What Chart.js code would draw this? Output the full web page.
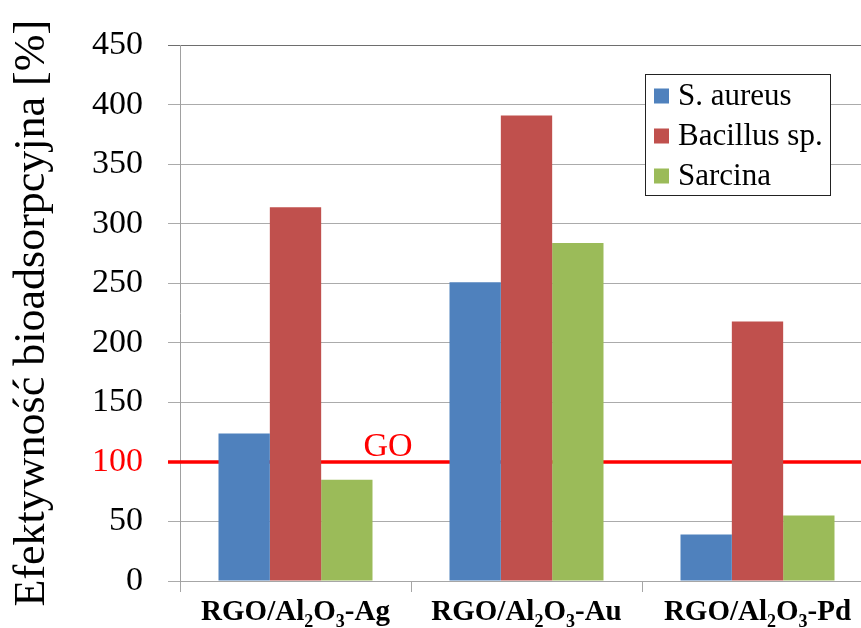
<!DOCTYPE html>
<html>
<head>
<meta charset="utf-8">
<script src="https://cdn.jsdelivr.net/npm/chart.js@4/dist/chart.umd.min.js"></script>
<style>
  html, body { margin: 0; padding: 0; overflow: hidden; background: #fff; }
  #wrap { position: absolute; left: 0; top: 0; width: 880px; height: 628px; }
</style>
</head>
<body>
<div id="wrap"><canvas id="c" width="880" height="628"></canvas></div>
<script>
// Samples (digits in the names are drawn as subscripts)
const categories = ['RGO/Al2O3-Ag', 'RGO/Al2O3-Au', 'RGO/Al2O3-Pd'];
// Bacteria
const seriesNames = ['S. aureus', 'Bacillus sp.', 'Sarcina'];
const sAureus  = [124, 251, 39];
const bacillus = [314, 391, 218];
const sarcina  = [85, 284, 55];
// Value axis
const yMin = 0, yMax = 450, yStep = 50;
// Reference level for plain graphene oxide
const goLevel = 100;
const goLabel = 'GO';
const yTitle = 'Efektywność bioadsorpcyjna [%]';

const SERIF = '"Liberation Serif", "Times New Roman", serif';
const colors = ['#4F81BD', '#C0504D', '#9BBB59'];
const seriesValues = [sAureus, bacillus, sarcina];

// Horizontal GO reference line, drawn beneath the bars
const goLinePlugin = {
  id: 'goLine',
  beforeDatasetsDraw(chart, args, opts) {
    const { ctx, chartArea } = chart;
    const y = chart.scales.y.getPixelForValue(opts.level);
    ctx.save();
    ctx.strokeStyle = opts.color;
    ctx.lineWidth = opts.width;
    ctx.beginPath();
    ctx.moveTo(chartArea.left - opts.overhang, y);
    ctx.lineTo(chartArea.right, y);
    ctx.stroke();
    ctx.fillStyle = opts.color;
    ctx.font = opts.textFont;
    ctx.textAlign = 'center';
    ctx.textBaseline = 'alphabetic';
    ctx.fillText(opts.text, chartArea.left + opts.textOffsetX, y - opts.textGap);
    ctx.restore();
  }
};

// Category labels with chemical subscripts
const subscriptLabels = {
  id: 'subscriptLabels',
  afterDraw(chart, args, opts) {
    const { ctx } = chart;
    const xs = chart.scales.x;
    ctx.save();
    ctx.fillStyle = opts.color;
    ctx.textBaseline = 'alphabetic';
    ctx.textAlign = 'left';
    chart.data.labels.forEach((lab, i) => {
      const parts = lab.split(/(\d+)/).filter(s => s.length);
      const segs = parts.map(p => ({ text: p, sub: /^\d+$/.test(p) }));
      let total = 0;
      segs.forEach(s => {
        ctx.font = s.sub ? opts.subFace : opts.mainFace;
        s.w = ctx.measureText(s.text).width;
        total += s.w;
      });
      let x = xs.getPixelForValue(i) - total / 2;
      segs.forEach(s => {
        ctx.font = s.sub ? opts.subFace : opts.mainFace;
        ctx.fillText(s.text, x, opts.baseline + (s.sub ? opts.subShift : 0));
        x += s.w;
      });
    });
    ctx.restore();
  }
};

// Boxed legend inside the plot area
const boxedLegend = {
  id: 'boxedLegend',
  afterDraw(chart, args, opts) {
    const { ctx } = chart;
    ctx.save();
    ctx.fillStyle = '#ffffff';
    ctx.fillRect(opts.x, opts.y, opts.w, opts.h);
    ctx.strokeStyle = '#222222';
    ctx.lineWidth = 1;
    ctx.strokeRect(opts.x + 0.5, opts.y + 0.5, opts.w, opts.h);
    ctx.font = opts.face;
    ctx.textBaseline = 'middle';
    ctx.textAlign = 'left';
    chart.data.datasets.forEach((ds, i) => {
      const cy = opts.y + opts.firstRow + i * opts.rowGap;
      ctx.fillStyle = ds.backgroundColor;
      ctx.fillRect(opts.x + opts.boxLeft, cy - opts.box / 2, opts.box, opts.box);
      ctx.fillStyle = '#000000';
      ctx.fillText(ds.label, opts.x + opts.textLeft, cy + 1);
    });
    ctx.restore();
  }
};

Chart.defaults.font.family = SERIF;

new Chart(document.getElementById('c'), {
  type: 'bar',
  data: {
    labels: categories,
    datasets: seriesNames.map((name, i) => ({
      label: name,
      data: seriesValues[i],
      backgroundColor: colors[i],
      borderWidth: 0,
      categoryPercentage: 2 / 3,
      barPercentage: 1
    }))
  },
  options: {
    responsive: false,
    animation: false,
    devicePixelRatio: 1,
    layout: { padding: { top: 41, right: 7, bottom: 0, left: 0 } },
    plugins: {
      legend: { display: false },
      tooltip: { enabled: false },
      goLine: {
        level: goLevel, text: goLabel, color: '#ff0000', width: 3.5, overhang: 12,
        textFont: '34px ' + SERIF, textOffsetX: 208, textGap: 6
      },
      subscriptLabels: {
        mainFace: 'bold 29px ' + SERIF, subFace: 'bold 18px ' + SERIF,
        subShift: 7, baseline: 620, color: '#000000'
      },
      boxedLegend: {
        x: 645, y: 74, w: 185, h: 121, face: '31px ' + SERIF,
        firstRow: 22, rowGap: 40, box: 15, boxLeft: 9, textLeft: 33
      }
    },
    scales: {
      x: {
        offset: true,
        afterFit(scale) { scale.height = 47; },
        ticks: { display: false },
        grid: {
          offset: true, drawOnChartArea: false, drawTicks: true,
          tickLength: 11, color: '#a6a6a6', lineWidth: 1
        },
        border: { display: true, color: '#a6a6a6', width: 1 }
      },
      y: {
        min: yMin, max: yMax,
        afterFit(scale) { scale.width = 180; },
        ticks: {
          stepSize: yStep,
          padding: 25,
          color: ctx => ctx.tick.value === goLevel ? '#ff0000' : '#000000',
          font: { family: SERIF, size: 34, weight: 'normal' }
        },
        grid: {
          drawTicks: true, tickLength: 12,
          color: ctx => ctx.tick && ctx.tick.value === yMax ? '#6e6e6e' : '#ababab',
          lineWidth: 1
        },
        border: { display: true, color: '#a0a0a0', width: 1 },
        title: {
          display: true, text: yTitle, color: '#000000',
          font: { family: SERIF, size: 44, weight: 'normal' },
          padding: { top: 6, bottom: 0 }
        }
      }
    }
  },
  plugins: [goLinePlugin, subscriptLabels, boxedLegend]
});
</script>
</body>
</html>
